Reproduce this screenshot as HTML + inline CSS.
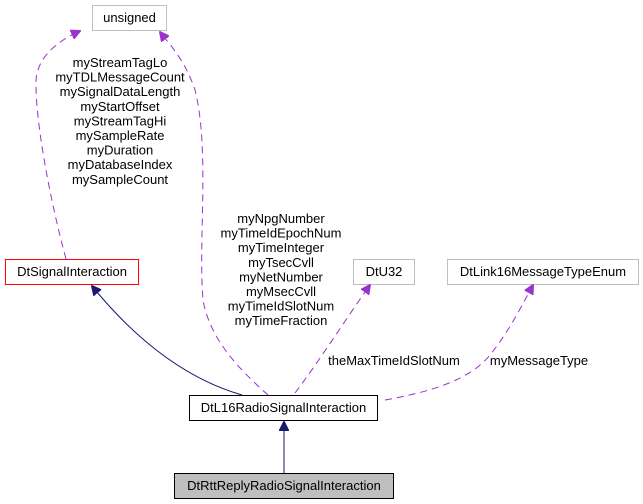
<!DOCTYPE html>
<html><head><meta charset="utf-8"><style>
html,body{margin:0;padding:0;background:#fff;}
svg{display:block;font-family:"Liberation Sans",sans-serif;}
text{font-size:13px;fill:#000;}
</style></head><body>
<svg width="643" height="504" viewBox="0 0 643 504">
<defs>
<marker id="pa" markerWidth="10" markerHeight="10" refX="9" refY="5" orient="auto" markerUnits="userSpaceOnUse"><path d="M0,0 L10,5 L0,10 z" fill="#9a32cd" stroke="#9a32cd"/></marker>
<marker id="na" markerWidth="10" markerHeight="10" refX="9" refY="5" orient="auto" markerUnits="userSpaceOnUse"><path d="M0,0 L10,5 L0,10 z" fill="#191970" stroke="#191970"/></marker>
</defs>
<rect x="92.5" y="5.5" width="74" height="25" fill="#fff" stroke="#bfbfbf"/>
<text x="129.5" y="22" text-anchor="middle">unsigned</text>
<rect x="5.5" y="259.5" width="133" height="25" fill="#fff" stroke="#ff0000"/>
<text x="72" y="276" text-anchor="middle">DtSignalInteraction</text>
<rect x="353.5" y="259.5" width="61" height="25" fill="#fff" stroke="#bfbfbf"/>
<text x="384" y="276" text-anchor="middle">DtU32</text>
<rect x="447.5" y="259.5" width="191" height="25" fill="#fff" stroke="#bfbfbf"/>
<text x="543" y="276" text-anchor="middle">DtLink16MessageTypeEnum</text>
<rect x="189.5" y="395.5" width="188" height="25" fill="#fff" stroke="#000"/>
<text x="283.5" y="412" text-anchor="middle">DtL16RadioSignalInteraction</text>
<rect x="174.5" y="473.5" width="219" height="25" fill="#bfbfbf" stroke="#000"/>
<text x="284" y="490" text-anchor="middle">DtRttReplyRadioSignalInteraction</text>
<path d="M66,259 C50,200 35,120 36,80 C38,55 60,40 80,31" fill="none" stroke="#9a32cd" stroke-dasharray="7,5" marker-end="url(#pa)"/>
<path d="M268,395 C240,370 210,340 203,300 C198,240 210,150 195,90 C185,60 170,45 160,32" fill="none" stroke="#9a32cd" stroke-dasharray="7,5" marker-end="url(#pa)"/>
<path d="M295,393 C320,360 345,320 370,285" fill="none" stroke="#9a32cd" stroke-dasharray="7,5" marker-end="url(#pa)"/>
<path d="M385,400 C430,392 470,380 490,355 C510,330 522,305 533,285" fill="none" stroke="#9a32cd" stroke-dasharray="7,5" marker-end="url(#pa)"/>
<path d="M242,395 C190,380 140,345 92,286" fill="none" stroke="#191970" marker-end="url(#na)"/>
<path d="M284,473 L284,422" fill="none" stroke="#191970" marker-end="url(#na)"/>
<g text-anchor="middle">
<text x="120" y="67">myStreamTagLo</text>
<text x="120" y="81.6">myTDLMessageCount</text>
<text x="120" y="96.2">mySignalDataLength</text>
<text x="120" y="110.8">myStartOffset</text>
<text x="120" y="125.4">myStreamTagHi</text>
<text x="120" y="140">mySampleRate</text>
<text x="120" y="154.6">myDuration</text>
<text x="120" y="169.2">myDatabaseIndex</text>
<text x="120" y="183.8">mySampleCount</text>
<text x="281" y="223">myNpgNumber</text>
<text x="281" y="237.6">myTimeIdEpochNum</text>
<text x="281" y="252.2">myTimeInteger</text>
<text x="281" y="266.8">myTsecCvll</text>
<text x="281" y="281.4">myNetNumber</text>
<text x="281" y="296">myMsecCvll</text>
<text x="281" y="310.6">myTimeIdSlotNum</text>
<text x="281" y="325.2">myTimeFraction</text>
<text x="394" y="365">theMaxTimeIdSlotNum</text>
<text x="539" y="365">myMessageType</text>
</g>
</svg>
</body></html>
